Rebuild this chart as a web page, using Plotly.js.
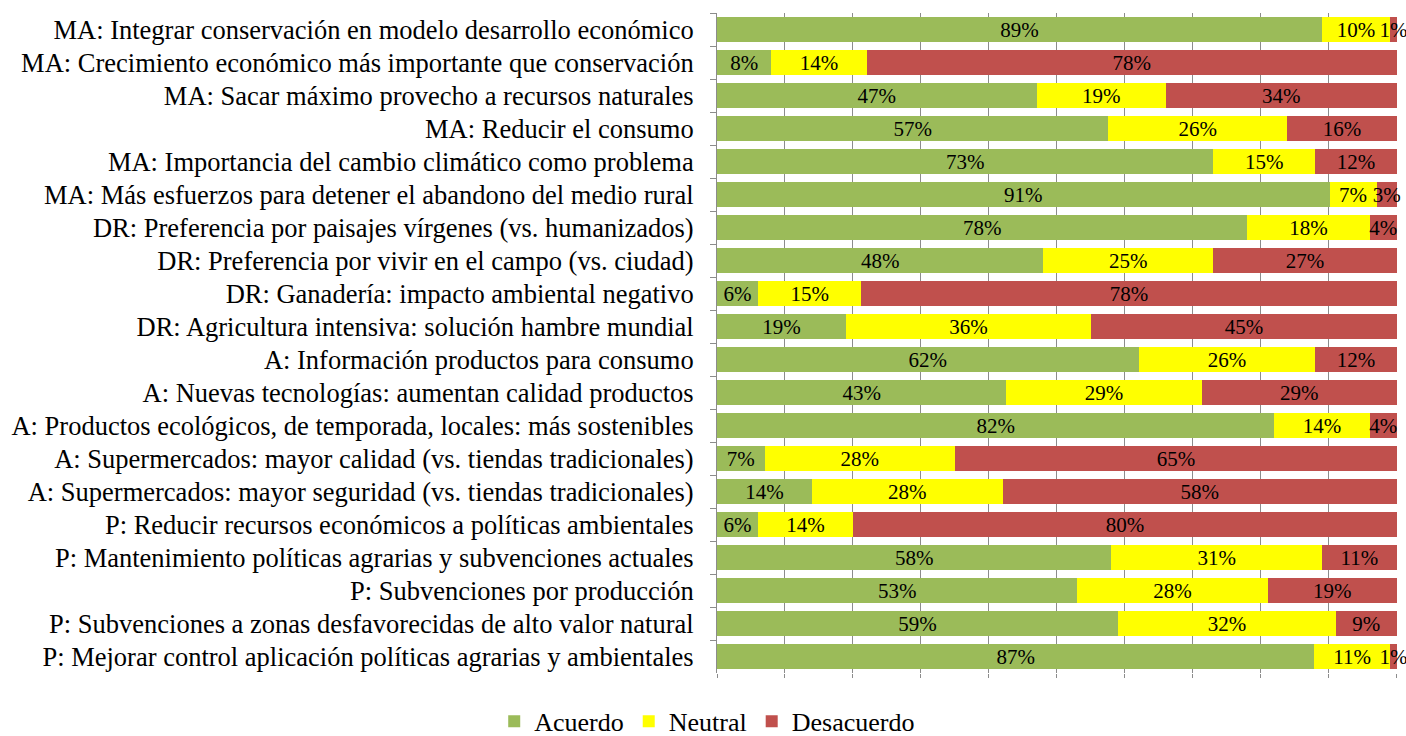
<!DOCTYPE html>
<html>
<head>
<meta charset="utf-8">
<script src="https://cdn.plot.ly/plotly-3.0.1.min.js"></script>
<style>html,body{margin:0;padding:0;background:#fff;}#chart{width:1406px;height:736px;}</style>
</head>
<body>
<div id="chart"></div>
<script>
const categories = [
  "MA: Integrar conservación en modelo desarrollo económico",
  "MA: Crecimiento económico más importante que conservación",
  "MA: Sacar máximo provecho a recursos naturales",
  "MA: Reducir el consumo",
  "MA: Importancia del cambio climático como problema",
  "MA: Más esfuerzos para detener el abandono del medio rural",
  "DR: Preferencia por paisajes vírgenes (vs. humanizados)",
  "DR: Preferencia por vivir en el campo (vs. ciudad)",
  "DR: Ganadería: impacto ambiental negativo",
  "DR: Agricultura intensiva: solución hambre mundial",
  "A: Información productos para consumo",
  "A: Nuevas tecnologías: aumentan calidad productos",
  "A: Productos ecológicos, de temporada, locales: más sostenibles",
  "A: Supermercados: mayor calidad (vs. tiendas tradicionales)",
  "A: Supermercados: mayor seguridad (vs. tiendas tradicionales)",
  "P: Reducir recursos económicos a políticas ambientales",
  "P: Mantenimiento políticas agrarias y subvenciones actuales",
  "P: Subvenciones por producción",
  "P: Subvenciones a zonas desfavorecidas de alto valor natural",
  "P: Mejorar control aplicación políticas agrarias y ambientales"
];
const acuerdo    = [89, 8, 47, 57, 73, 91, 78, 48, 6, 19, 62, 43, 82, 7, 14, 6, 58, 53, 59, 87];
const neutral    = [10, 14, 19, 26, 15, 7, 18, 25, 15, 36, 26, 29, 14, 28, 28, 14, 31, 28, 32, 11];
const desacuerdo = [1, 78, 34, 16, 12, 3, 4, 27, 78, 45, 12, 29, 4, 65, 58, 80, 11, 19, 9, 1];
const seriesNames = ["Acuerdo", "Neutral", "Desacuerdo"];
const seriesColors = ["#9BBB59", "#FFFF00", "#C0504D"];
const seriesValues = [acuerdo, neutral, desacuerdo];

const FONT = "Liberation Serif";
const traces = seriesValues.map((vals, i) => ({
  type: "bar",
  orientation: "h",
  name: seriesNames[i],
  y: categories,
  x: vals,
  text: vals.map(v => v + "%"),
  texttemplate: "%{text}",
  textposition: "inside",
  insidetextanchor: "middle",
  textangle: 0,
  constraintext: "none",
  cliponaxis: false,
  textfont: {family: FONT, size: 21, color: "#000"},
  insidetextfont: {family: FONT, size: 21, color: "#000"},
  marker: {color: seriesColors[i], line: {width: 0}},
  hoverinfo: "name+text"
}));

const layout = {
  width: 1406, height: 736,
  barmode: "stack",
  barnorm: "percent",
  bargap: 0.27,
  margin: {l: 717, r: 9, t: 13, b: 63},
  paper_bgcolor: "#fff",
  plot_bgcolor: "#fff",
  font: {family: FONT, size: 26.5, color: "#000"},
  showlegend: true,
  legend: {
    orientation: "h",
    x: 0.503, xref: "container", xanchor: "center",
    y: 0.02, yref: "container", yanchor: "middle",
    font: {family: FONT, size: 26, color: "#000"},
    traceorder: "normal",
    itemwidth: 30
  },
  xaxis: {
    range: [0, 100.02],
    dtick: 10,
    showgrid: true,
    gridcolor: "#8c8c8c",
    gridwidth: 1,
    zeroline: false,
    showticklabels: false,
    ticks: "outside",
    ticklen: 4,
    tickcolor: "#8c8c8c",
    showline: false,
    fixedrange: true
  },
  yaxis: {
    type: "category",
    autorange: "reversed",
    showline: true,
    linecolor: "#8c8c8c",
    linewidth: 1,
    ticks: "outside",
    tickson: "boundaries",
    ticklen: 6,
    tickcolor: "#8c8c8c",
    showgrid: false,
    ticklabelstandoff: 17,
    tickfont: {family: FONT, size: 26.5, color: "#000"},
    fixedrange: true
  }
};

Plotly.newPlot("chart", traces, layout, {displayModeBar: false, staticPlot: true});
</script>
</body>
</html>
